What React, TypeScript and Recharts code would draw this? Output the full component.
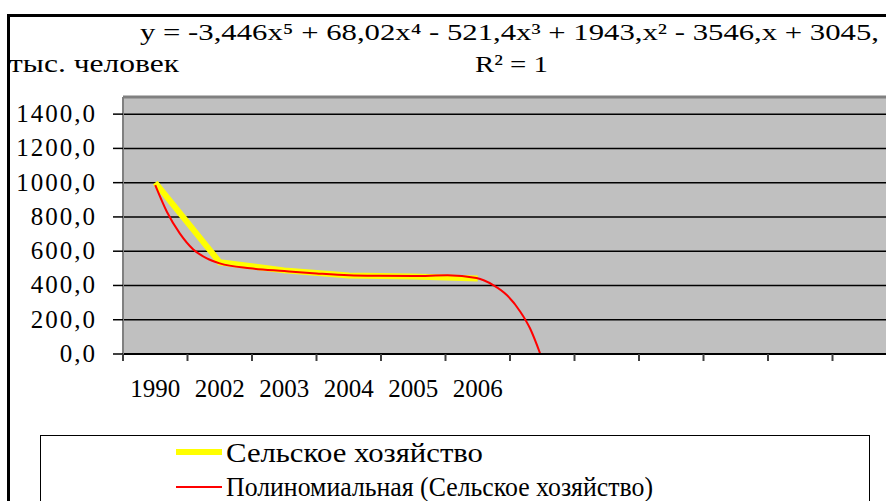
import React from "react";
import {
  ComposedChart,
  Line,
  XAxis,
  YAxis,
  CartesianGrid,
  ReferenceLine,
} from "recharts";

// ─── Data ─────────────────────────────────────────────────────────────────────
const CATEGORIES = ["1990", "2002", "2003", "2004", "2005", "2006"];
const SLOT_COUNT = 12; // the category axis has empty slots after 2006
const AGRICULTURE = [1000, 535, 488, 458, 452, 440];
// polynomial trendline
const TREND_X = [1, 1.18, 1.38, 1.59, 1.8, 2, 2.47, 3, 3.5, 4, 4.48, 5, 5.53, 5.98, 6.24, 6.45, 6.66, 6.81, 6.97];
const TREND_Y = [985, 830, 704, 610, 558, 529, 500, 484, 470, 459, 456, 455, 459, 443, 402, 344, 247, 150, 0];
const Y_TICKS = [0, 200, 400, 600, 800, 1000, 1200, 1400];
const Y_MAX = 1500;

const SERIES_NAME = "Сельское хозяйство";
const TREND_NAME = "Полиномиальная (Сельское хозяйство)";
const EQUATION = "y = -3,446x⁵ + 68,02x⁴ - 521,4x³ + 1943,x² - 3546,x + 3045,";
const R2 = "R² = 1";
const UNIT = "тыс. человек";

const FONT = "Liberation Serif";
const serif = { fontFamily: FONT };

const seriesData = AGRICULTURE.map((v, i) => ({ x: i + 1, v }));
const trendData = TREND_X.map((x, i) => ({ x, t: TREND_Y[i] }));
// half-steps: slot edges get a tick mark, slot centres get the label
const xTicks = Array.from({ length: SLOT_COUNT * 2 + 1 }, (_, i) => 0.5 + i / 2);

const fmt = (v: number) => v.toFixed(1).replace(".", ",");

function SlotTick({ x, y, payload }: any) {
  const v = payload.value as number;
  if (v % 1 !== 0) {
    return <line x1={x} x2={x} y1={y} y2={y + 7} stroke="#404040" strokeWidth={2} />;
  }
  const label = CATEGORIES[v - 1];
  if (!label) return null;
  return (
    <text x={x} y={y + 43} textAnchor="middle" fontSize={25} fill="#000" style={serif}>
      {label}
    </text>
  );
}

function ValueTick({ x, y, payload }: any) {
  return (
    <text
      x={x}
      y={y + 8}
      textAnchor="end"
      fontSize={25}
      fill="#000"
      style={{ ...serif, letterSpacing: 2 }}
    >
      {fmt(payload.value)}
    </text>
  );
}

function Overlay() {
  return (
    <svg
      width={886}
      height={501}
      style={{ position: "absolute", left: 0, top: 0, pointerEvents: "none" }}
    >
      {/* chart frame, cut off on the right and bottom */}
      <path d="M8.5 501 L8.5 15.5 L886 15.5" fill="none" stroke="#000" strokeWidth={3} />
      <text x={140} y={40} fontSize={23} style={serif} textLength={739} lengthAdjust="spacingAndGlyphs">
        {EQUATION}
      </text>
      <text x={475} y={72} fontSize={24} style={serif} textLength={73} lengthAdjust="spacingAndGlyphs">
        {R2}
      </text>
      <text x={9} y={72} fontSize={26} style={serif} textLength={170} lengthAdjust="spacingAndGlyphs">
        {UNIT}
      </text>

      {/* legend */}
      <rect x={40.5} y={435.5} width={829} height={100} fill="#fff" stroke="#000" strokeWidth={1} />
      <line x1={176} x2={222} y1={452} y2={452} stroke="#FFFF00" strokeWidth={6} />
      <text x={226} y={462} fontSize={28} style={serif} textLength={257} lengthAdjust="spacingAndGlyphs">
        {SERIES_NAME}
      </text>
      <line x1={176} x2={222} y1={487} y2={487} stroke="#FF0000" strokeWidth={2} />
      <text x={226} y={496} fontSize={28} style={serif} textLength={427} lengthAdjust="spacingAndGlyphs">
        {TREND_NAME}
      </text>
    </svg>
  );
}

export default function App() {
  return (
    <div
      style={{
        position: "absolute",
        left: 0,
        top: 0,
        width: 886,
        height: 501,
        overflow: "hidden",
        background: "#fff",
      }}
    >
      <ComposedChart
        width={900}
        height={501}
        margin={{ top: 97, right: 3, left: 63, bottom: 107 }}
      >
        <CartesianGrid
          horizontal
          vertical={false}
          stroke="#000"
          strokeWidth={1.5}
          fill="#C0C0C0"
          fillOpacity={1}
        />
        <XAxis
          type="number"
          dataKey="x"
          domain={[0.5, SLOT_COUNT + 0.5]}
          ticks={xTicks}
          tick={<SlotTick />}
          tickLine={false}
          tickSize={0}
          tickMargin={0}
          axisLine={{ stroke: "#000", strokeWidth: 2 }}
          height={40}
          interval={0}
          allowDataOverflow
        />
        <YAxis
          domain={[0, Y_MAX]}
          ticks={Y_TICKS}
          tick={<ValueTick />}
          width={60}
          tickSize={10}
          tickMargin={16}
          axisLine={{ stroke: "#808080", strokeWidth: 2 }}
          tickLine={{ stroke: "#000", strokeWidth: 1.5 }}
          interval={0}
          allowDataOverflow
        />
        <ReferenceLine y={Y_MAX} stroke="#808080" strokeWidth={3} />
        <Line
          data={seriesData}
          dataKey="v"
          name={SERIES_NAME}
          type="linear"
          stroke="#FFFF00"
          strokeWidth={6}
          dot={false}
          isAnimationActive={false}
        />
        <Line
          data={trendData}
          dataKey="t"
          name={TREND_NAME}
          type="monotone"
          stroke="#FF0000"
          strokeWidth={2}
          dot={false}
          isAnimationActive={false}
        />
      </ComposedChart>
      <Overlay />
    </div>
  );
}
